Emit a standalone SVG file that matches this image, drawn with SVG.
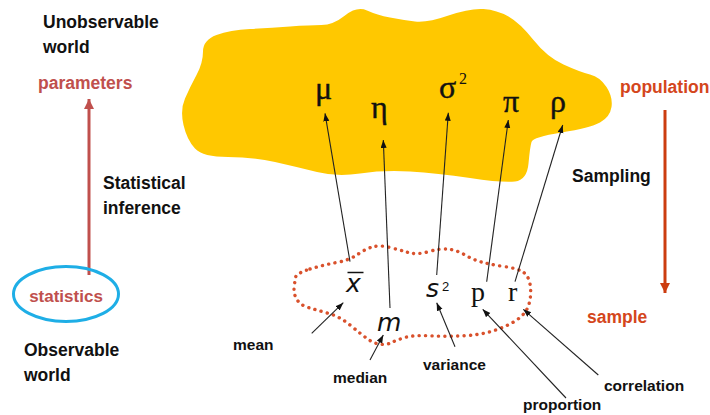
<svg xmlns="http://www.w3.org/2000/svg" width="710" height="415" viewBox="0 0 710 415">
<style>
.lbl{font-family:"Liberation Sans",Arial,sans-serif;font-weight:bold;fill:#111}
.big{font-size:17.5px}
.sm{font-size:15.5px}
.red1{fill:#c0504d}
.red2{fill:#d4461c}
.greek{font-family:"Liberation Serif","Times New Roman",serif;font-size:32px;fill:#111;stroke:#111;stroke-width:0.4}
.stat{font-family:"Liberation Serif","Times New Roman",serif;font-size:28px;fill:#111}
.ital{font-style:italic}
.conn{stroke:#222;stroke-width:1.1;fill:none;marker-end:url(#ah)}
</style>
<defs>
<marker id="ah" markerUnits="userSpaceOnUse" markerWidth="9" markerHeight="7" refX="8" refY="3" orient="auto"><path d="M0,0 L8,3 L0,6 z" fill="#111"/></marker>
<marker id="ahr1" markerUnits="userSpaceOnUse" markerWidth="12" markerHeight="12" refX="10" refY="5" orient="auto"><path d="M0,0 L10,5 L0,10 z" fill="#c0504d"/></marker>
<marker id="ahr2" markerUnits="userSpaceOnUse" markerWidth="12" markerHeight="12" refX="10" refY="5" orient="auto"><path d="M0,0 L10,5 L0,10 z" fill="#cc3d10"/></marker>
</defs>
<rect width="710" height="415" fill="#fff"/>

<g id="population-blob">
<path fill="#ffc800" d="M203,51.5 Q203,40 216.5,35 Q230,30 250,29 Q270,28 290,26.5 Q310,25 321.5,25 Q333,25 345,15.5 Q357,6 367,10.5 Q377,15 390,17.5 Q403,20 415,21.5 Q427,23 448.5,15.5 Q470,8 483.5,9 Q497,10 508.5,16.5 Q520,23 533.5,40 Q547,57 563.5,64.5 Q580,72 590,74.5 Q600,77 606.5,87 Q613,97 611.5,107 Q610,117 600,122.5 Q590,128 561.5,132.5 Q533,137 531.5,142 Q530,147 528.5,163.5 Q527,180 515,181.5 Q503,183 470,178 Q437,173 410,171.5 Q383,170 360,173.5 Q337,177 317,172 Q297,167 275,162 Q253,157 228,157 Q203,157 195,148.5 Q187,140 183.5,125 Q180,110 185,98.5 Q190,87 196.5,75 Q203,63 203,51.5 Z"/>
</g>

<g id="sample-blob">
<path fill="none" stroke="#d9512c" stroke-width="3.4" stroke-linecap="round" stroke-dasharray="0.1 6.3" d="M310,269 Q323.3,265 336.7,262.5 Q350,260 358.3,254 Q366.7,248.3 373.3,246.7 Q380,245 390,247.5 Q400,250 408.3,252.5 Q416.7,255 428.3,251.7 Q440,248.3 448.3,249.2 Q456.7,250 465,255 Q473.3,260 483.3,262.5 Q493.3,265 505,266.7 Q516.7,268.3 522.5,271.7 Q528.3,275 530,284 Q531.7,293.3 529.2,303.3 Q526.7,313.3 516.7,320 Q506.7,326.7 493.3,330.8 Q480,335 463.3,335.8 Q446.7,336.7 430,335.8 Q413.3,335 405,337.5 Q396.7,340 391.7,342.5 Q386.7,345 380,344.2 Q373.3,343.3 366.7,338.3 Q360,333.3 350,325 Q340,316.7 328.3,313.3 Q316.7,310 308.3,307.5 Q300,305 296.7,299.2 Q293.3,293.3 294.2,286.7 Q295,280 295.8,276.7 Q296.7,273.3 310,269 Z"/>
</g>

<g id="parameters-symbols">
<text class="greek" x="315" y="99">μ</text>
<text class="greek" x="371" y="118">η</text>
<text class="greek" x="439" y="98">σ</text>
<text x="459" y="84" font-family="Liberation Serif,serif" font-size="16" fill="#111">2</text>
<text class="greek" x="503" y="112">π</text>
<text class="greek" x="550" y="112">ρ</text>
</g>

<g id="sample-symbols">
<text class="stat ital" x="346" y="292" style="font-family:'DejaVu Sans',sans-serif;font-size:25px">x</text>
<line x1="347.5" y1="272.5" x2="363.5" y2="272.5" stroke="#111" stroke-width="1.5"/>
<text class="stat ital" x="426" y="297" style="font-family:'DejaVu Sans',sans-serif;font-size:25px">s</text>
<text x="442" y="291" font-family="Liberation Sans,Arial,sans-serif" font-size="13" fill="#111">2</text>
<text class="stat" x="471" y="301">p</text>
<text class="stat" x="508" y="301">r</text>
<text class="stat ital" x="377" y="331" style="font-family:'DejaVu Sans',sans-serif;font-size:25px">m</text>
</g>

<g id="connectors">
<line class="conn" x1="350" y1="261.7" x2="325" y2="113.3"/>
<line class="conn" x1="390" y1="308" x2="383.3" y2="140"/>
<line class="conn" x1="436.7" y1="275" x2="448.3" y2="112.7"/>
<line class="conn" x1="486.7" y1="281.7" x2="508.3" y2="120"/>
<line class="conn" x1="515" y1="281.7" x2="562.7" y2="125"/>
<line class="conn" x1="311.7" y1="333.3" x2="343.3" y2="302.7"/>
<line class="conn" x1="370" y1="360" x2="383.3" y2="335"/>
<line class="conn" x1="455" y1="346.7" x2="436.7" y2="302.7"/>
<line class="conn" x1="566" y1="398" x2="482.7" y2="309.3"/>
<line class="conn" x1="598.3" y1="375" x2="523.3" y2="309.3"/>
<line x1="89" y1="275" x2="89" y2="99" stroke="#c0504d" stroke-width="3" marker-end="url(#ahr1)"/>
<line x1="665" y1="110" x2="665" y2="293" stroke="#cc3d10" stroke-width="3" marker-end="url(#ahr2)"/>
</g>

<g id="labels">
<text class="lbl big" x="43" y="27.5">Unobservable</text>
<text class="lbl big" x="43" y="53">world</text>
<text class="lbl big red1" x="38" y="89">parameters</text>
<text class="lbl big" x="103" y="189">Statistical</text>
<text class="lbl big" x="103" y="214">inference</text>
<text class="lbl big" x="24" y="356">Observable</text>
<text class="lbl big" x="24" y="381">world</text>
<text class="lbl big red2" x="620" y="93">population</text>
<text class="lbl big" x="572" y="182">Sampling</text>
<text class="lbl big red2" x="587" y="323">sample</text>
<text class="lbl sm" x="233" y="350">mean</text>
<text class="lbl sm" x="333" y="383">median</text>
<text class="lbl sm" x="423" y="370">variance</text>
<text class="lbl sm" x="523" y="410">proportion</text>
<text class="lbl sm" x="604" y="391">correlation</text>
</g>

<g id="statistics-node">
<ellipse cx="66" cy="294" rx="52.5" ry="27.5" fill="none" stroke="#1eaee6" stroke-width="3"/>
<text class="lbl big red1" x="66" y="302" text-anchor="middle" style="font-size:17px">statistics</text>
</g>
</svg>
